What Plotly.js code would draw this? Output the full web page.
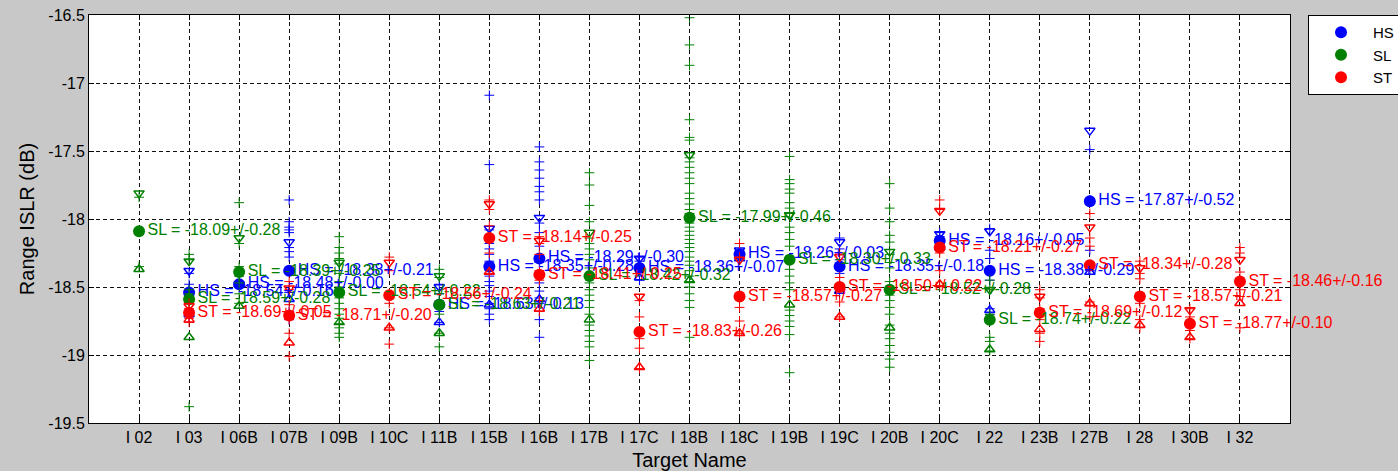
<!DOCTYPE html>
<html>
<head>
<meta charset="utf-8">
<script src="https://cdn.plot.ly/plotly-3.0.1.min.js"></script>
<style>html,body{margin:0;padding:0;background:#c8c8c8;}#chart{width:1398px;height:471px;}</style>
</head>
<body>
<div id="chart"></div>
<script>
const targets = ['I 02','I 03','I 06B','I 07B','I 09B','I 10C','I 11B','I 15B','I 16B','I 17B','I 17C','I 18B','I 18C','I 19B','I 19C','I 20B','I 20C','I 22','I 23B','I 27B','I 28','I 30B','I 32'];
const yTicks = [-19.5, -19, -18.5, -18, -17.5, -17, -16.5];

const hsMean = [null, -18.54, -18.48, -18.38, null, null, -18.63, -18.35, -18.29, null, -18.36, null, -18.26, null, -18.35, null, -18.16, -18.38, null, -17.87, null, null, null];
const hsStd  = [null, 0.16, 0.00, 0.21, null, null, 0.13, 0.28, 0.30, null, 0.07, null, 0.03, null, 0.18, null, 0.05, 0.29, null, 0.52, null, null, null];
const slMean = [-18.09, -18.59, -18.39, null, -18.54, null, -18.63, null, null, -18.42, null, -17.99, null, -18.30, null, -18.52, null, -18.74, null, null, null, null, null];
const slStd  = [0.28, 0.28, 0.25, null, 0.22, null, 0.21, null, null, 0.32, null, 0.46, null, 0.33, null, 0.28, null, 0.22, null, null, null, null, null];
const stMean = [null, -18.69, null, -18.71, null, -18.56, null, -18.14, -18.41, null, -18.83, null, -18.57, null, -18.50, null, -18.21, null, -18.69, -18.34, -18.57, -18.77, -18.46];
const stStd  = [null, 0.05, null, 0.20, null, 0.24, null, 0.25, 0.25, null, 0.26, null, 0.27, null, 0.22, null, 0.27, null, 0.12, 0.28, 0.21, 0.10, 0.16];

const hsSamples = [
  [],
  [-18.40, -18.48, -18.52, -18.56, -18.60, -18.72],
  [-18.48],
  [-17.86, -18.02, -18.06, -18.08, -18.10, -18.21, -18.24, -18.28, -18.54, -18.68, -18.74],
  [],
  [],
  [-18.48, -18.55, -18.62, -18.68, -18.76],
  [-17.09, -17.60, -18.08, -18.12, -18.18, -18.22, -18.26, -18.31, -18.38, -18.42, -18.46, -18.49, -18.53, -18.57, -18.62, -18.66, -18.70, -18.74],
  [-17.47, -17.58, -17.64, -17.70, -17.76, -17.80, -17.86, -18.03, -18.10, -18.20, -18.32, -18.47, -18.53, -18.58, -18.62, -18.68, -18.74, -18.87],
  [],
  [-18.28, -18.31, -18.34, -18.38, -18.42, -18.45],
  [],
  [-18.23, -18.25, -18.29],
  [],
  [-18.14, -18.22, -18.30, -18.40, -18.48, -18.53],
  [],
  [-18.10, -18.13, -18.17, -18.21],
  [-18.07, -18.23, -18.29, -18.45, -18.66, -18.70],
  [],
  [-17.49, -17.86, -18.23, -18.38],
  [], [], []
];
const slSamples = [
  [-17.84, -18.35],
  [-18.26, -18.30, -18.52, -18.55, -18.58, -18.62, -19.38],
  [-17.88, -18.18, -18.35, -18.42, -18.47, -18.55, -18.62],
  [],
  [-18.13, -18.21, -18.25, -18.29, -18.33, -18.40, -18.46, -18.50, -18.58, -18.62, -18.66, -18.70, -18.73, -18.77, -18.80, -18.84, -18.87],
  [],
  [-18.37, -18.43, -18.55, -18.62, -18.70, -18.84, -18.94],
  [], [],
  [-17.66, -17.75, -17.90, -18.02, -18.14, -18.18, -18.22, -18.26, -18.30, -18.36, -18.47, -18.52, -18.56, -18.60, -18.65, -18.70, -18.78, -18.82, -18.86, -18.90, -18.94, -19.04],
  [],
  [-16.52, -16.72, -16.87, -17.27, -17.40, -17.42, -17.55, -17.58, -17.62, -17.66, -17.70, -17.74, -17.81, -17.85, -17.89, -17.93, -17.96, -18.03, -18.06, -18.09, -18.12, -18.15, -18.18, -18.21, -18.24, -18.28, -18.31, -18.34, -18.38, -18.42, -18.46, -18.50, -18.55, -18.60, -18.65, -18.87],
  [],
  [-17.54, -17.71, -17.74, -17.78, -17.81, -17.88, -17.92, -17.96, -18.06, -18.10, -18.15, -18.20, -18.37, -18.42, -18.47, -18.52, -18.67, -18.71, -18.75, -18.79, -18.85, -19.13],
  [],
  [-17.74, -17.92, -18.02, -18.12, -18.17, -18.26, -18.32, -18.36, -18.46, -18.56, -18.60, -18.65, -18.70, -18.78, -18.84, -18.88, -18.93, -18.98, -19.03, -19.09],
  [],
  [-18.45, -18.52, -18.70, -18.87, -18.90, -18.97],
  [], [], [], [], []
];
const stSamples = [
  [],
  [-18.62, -18.66, -18.70, -18.73, -18.76],
  [],
  [-18.46, -18.52, -18.63, -18.70, -18.74, -18.84, -19.01],
  [],
  [-18.28, -18.38, -18.55, -18.62, -18.80, -18.92],
  [],
  [-17.86, -17.93, -18.05, -18.16, -18.25, -18.40],
  [-18.13, -18.18, -18.26, -18.38, -18.45, -18.60, -18.68],
  [],
  [-18.60, -18.72, -18.88, -18.95, -19.10],
  [],
  [-18.18, -18.28, -18.65, -18.75, -18.84],
  [],
  [-18.25, -18.43, -18.50, -18.61, -18.72],
  [],
  [-17.86, -17.93, -18.25, -18.38, -18.49],
  [],
  [-18.52, -18.58, -18.66, -18.74, -18.84, -18.90],
  [-17.96, -18.14, -18.20, -18.34, -18.61, -18.64, -18.72],
  [-18.31, -18.40, -18.44, -18.62, -18.74, -18.80],
  [-18.66, -18.72, -18.78, -18.82, -18.88],
  [-18.21, -18.25, -18.39, -18.52, -18.57, -18.80]
];

const FONT = 'Liberation Sans, Arial, Helvetica, sans-serif';

function build(name, color, means, stds, samples) {
  const sx = [], sy = [];
  samples.forEach((arr, i) => arr.forEach(v => { sx.push(targets[i]); sy.push(v); }));
  const mx = [], my = [], mt = [], uy = [], ly = [];
  means.forEach((m, i) => {
    if (m === null) return;
    mx.push(targets[i]); my.push(m);
    uy.push(m + stds[i]); ly.push(m - stds[i]);
    mt.push(name + ' = ' + m.toFixed(2) + '+/-' + stds[i].toFixed(2));
  });
  const marks = [
    {x: sx, y: sy, type: 'scatter', mode: 'markers', showlegend: false, hoverinfo: 'skip',
     marker: {symbol: 'cross-thin-open', size: 7, color: color, line: {color: color, width: 1}}},
    {x: mx, y: uy, type: 'scatter', mode: 'markers', showlegend: false, hoverinfo: 'skip',
     marker: {symbol: 'triangle-down-open', size: 9, color: color, line: {color: color, width: 1.5}}},
    {x: mx, y: ly, type: 'scatter', mode: 'markers', showlegend: false, hoverinfo: 'skip',
     marker: {symbol: 'triangle-up-open', size: 9, color: color, line: {color: color, width: 1.5}}},
    {x: mx, y: my, type: 'scatter', mode: 'markers', name: name, showlegend: true,
     marker: {symbol: 'circle', size: 12, color: color}}
  ];
  const text = {x: mx, y: my, text: mt, type: 'scatter', mode: 'markers+text', showlegend: false, hoverinfo: 'skip',
     cliponaxis: false,
     textposition: 'middle right', textfont: {family: FONT, size: 16, color: color},
     marker: {size: 12, opacity: 0, color: color}};
  return {marks, text};
}

const hs = build('HS', '#0000ff', hsMean, hsStd, hsSamples);
const sl = build('SL', '#008000', slMean, slStd, slSamples);
const st = build('ST', '#ff0000', stMean, stStd, stSamples);

const data = [...hs.marks, ...sl.marks, ...st.marks, hs.text, sl.text, st.text];

const layout = {
  width: 1398, height: 471,
  paper_bgcolor: '#c8c8c8', plot_bgcolor: '#ffffff',
  margin: {l: 89, r: 108, t: 15, b: 48, pad: 0, autoexpand: false},
  font: {family: FONT, color: '#000', size: 16},
  showlegend: true,
  legend: {x: 1.015, xanchor: 'left', y: 1, yanchor: 'top', bgcolor: '#ffffff',
           bordercolor: '#000', borderwidth: 1, font: {family: FONT, size: 15, color: '#000'},
           itemwidth: 54, entrywidth: 110, entrywidthmode: 'pixels', tracegroupgap: 0},
  xaxis: {
    type: 'category', categoryorder: 'array', categoryarray: targets,
    range: [-1, targets.length], tickmode: 'array', tickvals: targets,
    showgrid: true, gridcolor: '#111', griddash: '4px,3px', gridwidth: 1,
    showline: true, linecolor: '#000', linewidth: 1, mirror: 'ticks',
    ticks: 'inside', ticklen: 5, tickcolor: '#000',
    tickfont: {family: FONT, size: 16, color: '#000'},
    title: {text: 'Target Name', font: {family: FONT, size: 20, color: '#000'}, standoff: 7},
    zeroline: false, automargin: false
  },
  yaxis: {
    range: [-19.5, -16.5], tickmode: 'array', tickvals: yTicks, ticktext: yTicks.map(String),
    showgrid: true, gridcolor: '#111', griddash: '4px,3px', gridwidth: 1,
    showline: true, linecolor: '#000', linewidth: 1, mirror: 'ticks',
    ticks: 'inside', ticklen: 5, tickcolor: '#000',
    tickfont: {family: FONT, size: 16, color: '#000'},
    title: {text: 'Range ISLR (dB)', font: {family: FONT, size: 20, color: '#000'}, standoff: 8},
    zeroline: false, automargin: false
  }
};

Plotly.newPlot('chart', data, layout, {displayModeBar: false, staticPlot: true});
</script>
</body>
</html>
